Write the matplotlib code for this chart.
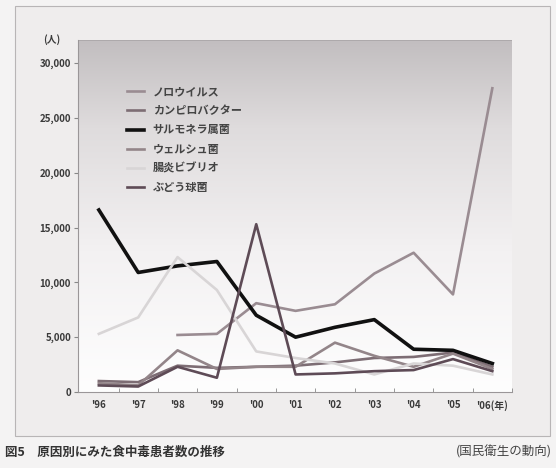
import numpy as np
import matplotlib.pyplot as plt
from matplotlib.patches import Rectangle
from matplotlib.colors import LinearSegmentedColormap

plt.rcParams['font.family'] = ['Noto Sans CJK JP', 'DejaVu Sans']

# データ（図から読み取った概算値）
years = ["'96", "'97", "'98", "'99", "'00", "'01", "'02", "'03", "'04", "'05", "'06(年)"]
noro = [np.nan, np.nan, 5200, 5300, 8100, 7400, 8000, 10800, 12700, 8900, 27700]
campylobacter = [1000, 900, 2400, 2200, 2300, 2400, 2700, 3100, 3200, 3600, 2300]
salmonella = [16600, 10900, 11500, 11900, 7000, 5000, 5900, 6600, 3900, 3800, 2600]
welsh = [800, 600, 3800, 2100, 2300, 2300, 4500, 3300, 2300, 3500, 2100]
vibrio = [5300, 6800, 12300, 9300, 3700, 3100, 2600, 1600, 2600, 2400, 1600]
staph = [600, 500, 2300, 1300, 15300, 1600, 1700, 1900, 2000, 3000, 1900]

series = [
    ('ノロウイルス', noro, '#9a8c92', 1.9),
    ('カンピロバクター', campylobacter, '#7d6d74', 1.9),
    ('サルモネラ属菌', salmonella, '#111111', 2.6),
    ('ウェルシュ菌', welsh, '#938589', 1.9),
    ('腸炎ビブリオ', vibrio, '#d8d5d6', 1.9),
    ('ぶどう球菌', staph, '#5e4b56', 1.9),
]

fig = plt.figure(figsize=(5.56, 4.68), dpi=100)
fig.patch.set_facecolor('#f4f3f3')

# 外枠
fig.patches.append(Rectangle((15 / 556, 1 - 436 / 468), 535 / 556, 430 / 468,
                             transform=fig.transFigure, fill=True,
                             facecolor='#efeded', edgecolor='#b8b5b6', lw=0.8, zorder=-5))

ax = fig.add_axes([78 / 556, 1 - 392 / 468, 434 / 556, 352 / 468])
ax.set_facecolor('none')

# 背景のグラデーション（上が濃く、下が白）
grad = np.linspace(0, 1, 256).reshape(-1, 1)
cmap = LinearSegmentedColormap.from_list(
    'g', [(0, '#fefefe'), (0.4, '#f3f1f2'), (0.75, '#dfdcdd'), (1, '#c2bec0')])
ax.imshow(grad, extent=[0, 1, 0, 1], transform=ax.transAxes, origin='lower',
          aspect='auto', cmap=cmap, zorder=0)
ax.axhline(32100, color='#a9a5a7', lw=1.2, zorder=1)

x = np.arange(len(years))
for name, vals, col, lw in series:
    ax.plot(x, vals, color=col, lw=lw, label=name, zorder=2)

ax.set_xlim(-0.53, 10.45)
ax.set_ylim(0, 32100)
ax.set_yticks(range(0, 30001, 5000))
ax.set_yticklabels([f'{v:,}' for v in range(0, 30001, 5000)], fontsize=7,
                   fontweight='bold', color='#3a3a3a')
ax.set_xticks(x)
ax.set_xticklabels(years, fontsize=7, fontweight='bold', color='#3a3a3a')
ax.set_xticks(x + 0.5, minor=True)
ax.tick_params(axis='y', direction='out', length=3, color='#888888', pad=2)
ax.tick_params(axis='x', which='major', length=0, pad=6)
ax.tick_params(axis='x', which='minor', direction='in', length=3, color='#888888')

for s in ['top', 'right']:
    ax.spines[s].set_visible(False)
ax.spines['left'].set_color('#9a9698')
ax.spines['bottom'].set_color('#9a9698')

ax.text(-0.04, 1.0, '(人)', transform=ax.transAxes, fontsize=7, fontweight='bold',
        ha='right', va='center', color='#3a3a3a')

leg = ax.legend(loc='upper left', bbox_to_anchor=(0.09, 0.90), frameon=False,
                handlelength=1.5, labelspacing=0.55, prop={'size': 8, 'weight': 'bold'})
for t in leg.get_texts():
    t.set_color('#444444')

fig.text(5 / 556, 1 - 452 / 468, '図5　原因別にみた食中毒患者数の推移', fontsize=9,
         fontweight='bold', ha='left', va='center', color='#333333')
fig.text(552 / 556, 1 - 452 / 468, '(国民衛生の動向)', fontsize=9,
         ha='right', va='center', color='#444444')

fig.savefig('out.png', dpi=100, facecolor=fig.get_facecolor())
